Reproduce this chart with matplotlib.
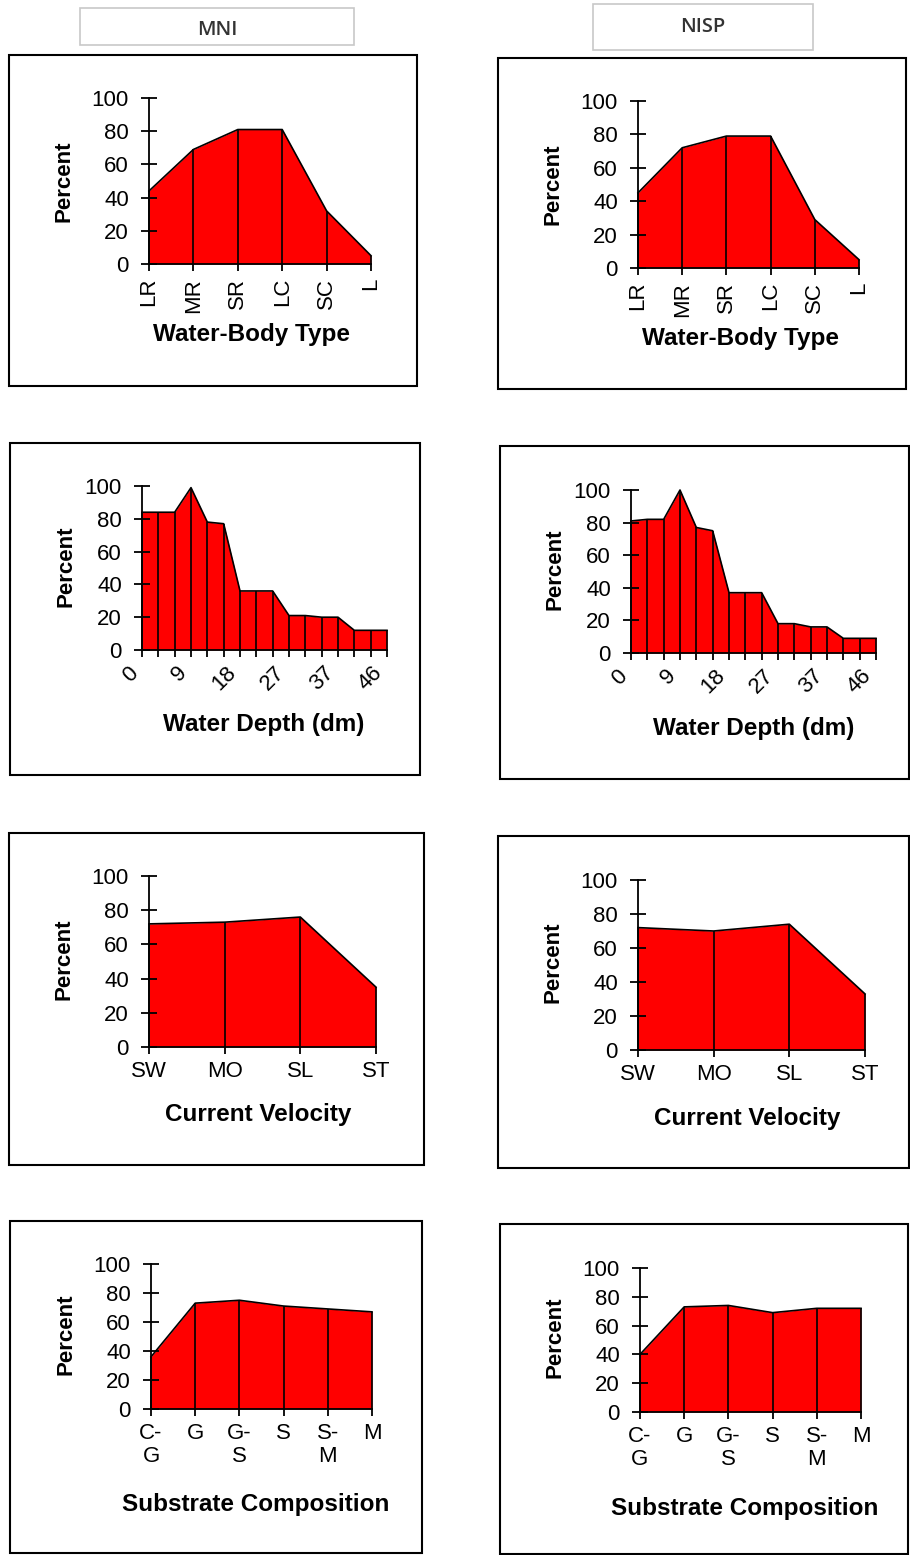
import matplotlib
matplotlib.use("Agg")
import matplotlib.pyplot as plt
from matplotlib.patches import Rectangle

plt.rcParams['font.family'] = ['Liberation Sans', 'DejaVu Sans']

# ---------------- data ----------------
water_body_labels = ['LR', 'MR', 'SR', 'LC', 'SC', 'L']
water_body_mni = [44, 69, 81, 81, 32, 5]
water_body_nisp = [45, 72, 79, 79, 29, 5]

depth_labels = ['0', '', '', '9', '', '', '18', '', '', '27', '', '', '37', '', '', '46']
depth_mni = [84, 84, 84, 99, 78, 77, 36, 36, 36, 21, 21, 20, 20, 12, 12, 12]
depth_nisp = [81, 82, 82, 100, 77, 75, 37, 37, 37, 18, 18, 16, 16, 9, 9, 9]

velocity_labels = ['SW', 'MO', 'SL', 'ST']
velocity_mni = [72, 73, 76, 35]
velocity_nisp = [72, 70, 74, 33]

substrate_labels = ['C-\nG', 'G', 'G-\nS', 'S', 'S-\nM', 'M']
substrate_mni = [36, 73, 75, 71, 69, 67]
substrate_nisp = [40, 73, 74, 69, 72, 72]

y_ticks = [0, 20, 40, 60, 80, 100]
column_titles = ['MNI', 'NISP']
x_titles = ['Water-Body Type', 'Water Depth (dm)', 'Current Velocity', 'Substrate Composition']

# ---------------- layout (pixels) ----------------
W, H = 910, 1555
fig = plt.figure(figsize=(W / 100, H / 100), dpi=100)

def px_rect(x0, y0, x1, y1):
    return [x0 / W, 1 - y1 / H, (x1 - x0) / W, (y1 - y0) / H]

def draw_box(x0, y0, x1, y1, color='black', lw=1.5):
    fig.patches.append(Rectangle((x0 / W, 1 - y1 / H), (x1 - x0) / W, (y1 - y0) / H,
                                 transform=fig.transFigure, fill=False,
                                 edgecolor=color, linewidth=lw, zorder=0))

TICK_FS = 16

# header boxes
draw_box(80, 8, 354, 45, color='#c8c8c8', lw=1.2)
fig.text(217 / W, 1 - 30 / H, column_titles[0], ha='center', va='center',
         fontsize=14.5, fontweight='semibold', family=['Open Sans', 'DejaVu Sans'], color='#333333')
draw_box(593, 4, 813, 50, color='#c8c8c8', lw=1.2)
fig.text(703 / W, 1 - 27 / H, column_titles[1], ha='center', va='center',
         fontsize=14.5, fontweight='semibold', family=['Open Sans', 'DejaVu Sans'], color='#333333')

# panel borders
borders = [
    [(9, 55, 417, 386), (498, 58, 906, 389)],
    [(10, 443, 420, 775), (500, 446, 909, 779)],
    [(9, 833, 424, 1165), (498, 836, 909, 1168)],
    [(10, 1221, 422, 1553), (500, 1224, 908, 1554)],
]
# axes rectangles: (left x, top y(100), right x, bottom y(0))
axes_px = [
    [(149, 98, 371, 264), (638, 101, 859, 268)],
    [(142, 486, 387, 650), (631, 490, 876, 653)],
    [(149, 876, 376, 1047), (638, 880, 865, 1050)],
    [(151, 1264, 372, 1409), (640, 1268, 861, 1412)],
]
xlabel_pos = [
    [(251, 335), (740, 338)],
    [(264, 725), (754, 728)],
    [(258, 1115), (747, 1118)],
    [(256, 1504), (745, 1508)],
]
ylabel_pos = [
    [(64, 181), (553, 184)],
    [(66, 566), (555, 569)],
    [(64, 959), (553, 962)],
    [(66, 1334), (555, 1337)],
]

rows = [
    (water_body_labels, water_body_mni, water_body_nisp),
    (depth_labels, depth_mni, depth_nisp),
    (velocity_labels, velocity_mni, velocity_nisp),
    (substrate_labels, substrate_mni, substrate_nisp),
]

for r, (labels, mni, nisp) in enumerate(rows):
    for c, vals in enumerate([mni, nisp]):
        draw_box(*borders[r][c])
        x0, y0, x1, y1 = axes_px[r][c]
        ax = fig.add_axes(px_rect(x0, y0, x1, y1))
        x = list(range(len(vals)))
        ax.fill_between(x, vals, 0, color='#ff0000', linewidth=0, zorder=1)
        ax.plot(x, vals, color='black', linewidth=1.2, zorder=3, clip_on=False)
        ax.vlines(x, 0, vals, color='black', linewidth=1.2, zorder=3, clip_on=False)
        ax.set_xlim(0, len(vals) - 1)
        ax.set_ylim(0, 100)
        ax.patch.set_alpha(0)
        for s in ['top', 'right']:
            ax.spines[s].set_visible(False)
        for s in ['left', 'bottom']:
            ax.spines[s].set_linewidth(1.3)
            ax.spines[s].set_zorder(4)
        ax.set_yticks(y_ticks)
        ax.set_yticklabels([str(v) for v in y_ticks], fontsize=TICK_FS)
        ax.tick_params(axis='y', direction='inout', length=11, width=1.3, pad=9)
        ax.set_xticks(x)
        if r == 0:
            ax.set_xticklabels(labels, fontsize=TICK_FS, rotation=90, va='top', ha='center')
            ax.tick_params(axis='x', direction='out', length=5, width=1.3, pad=5)
        elif r == 1:
            ax.set_xticklabels(labels, fontsize=TICK_FS, rotation=45, ha='right', va='top')
            ax.tick_params(axis='x', direction='out', length=5, width=1.3, pad=4)
        elif r == 2:
            ax.set_xticklabels(labels, fontsize=TICK_FS)
            ax.tick_params(axis='x', direction='out', length=5, width=1.3, pad=5)
        else:
            ax.set_xticklabels(labels, fontsize=TICK_FS, linespacing=1.15)
            ax.tick_params(axis='x', direction='out', length=5, width=1.3, pad=5)

        lx, ly = xlabel_pos[r][c]
        fig.text(lx / W, 1 - ly / H, x_titles[r], ha='center', va='center',
                 fontsize=17.5, fontweight='bold')
        px, py = ylabel_pos[r][c]
        fig.text(px / W, 1 - py / H, 'Percent', ha='center', va='center',
                 fontsize=16, fontweight='bold', rotation=90)

fig.savefig('out.png', dpi=100)
